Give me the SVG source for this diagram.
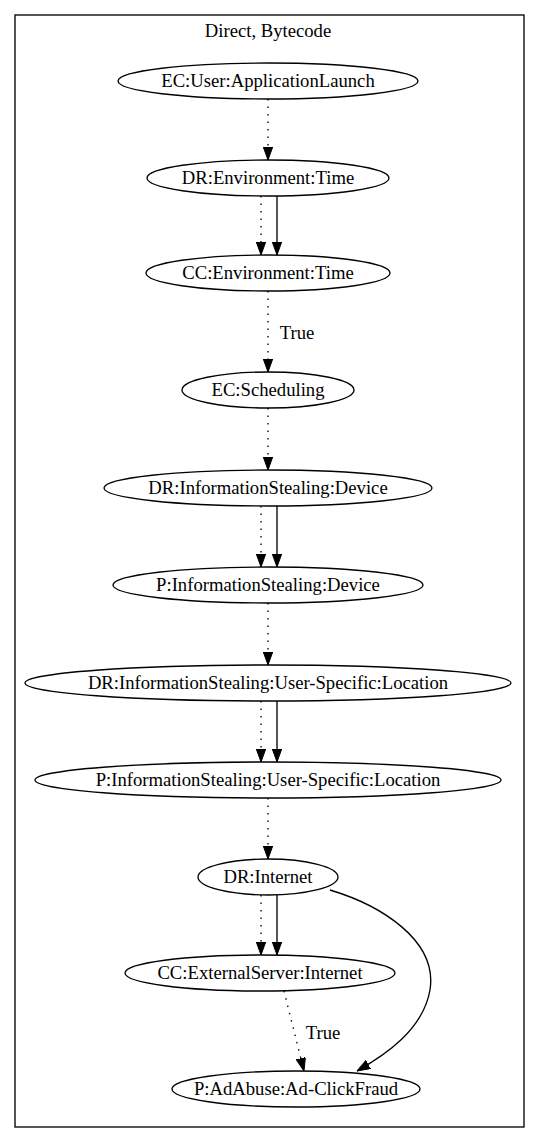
<svg xmlns="http://www.w3.org/2000/svg" width="539" height="1143" viewBox="0 0 539 1143">
<style>
text{font-family:"Liberation Serif","Times New Roman",serif;font-size:18.67px;fill:#000;text-anchor:middle}
ellipse{fill:none;stroke:#000;stroke-width:1.33}
.e{fill:none;stroke:#000;stroke-width:1.33;marker-end:url(#ah)}
.d{stroke-dasharray:1.5,6}
</style>
<defs>
<marker id="ah" markerWidth="13" markerHeight="10" refX="13" refY="4.7" orient="auto" markerUnits="userSpaceOnUse">
<path d="M0,0 L13,4.7 L0,9.4 z" fill="#000" stroke="#000" stroke-width="1"/>
</marker>
</defs>
<rect x="15" y="15" width="509" height="1112" fill="#fff" stroke="#000" stroke-width="1.33"/>
<text x="268" y="37">Direct, Bytecode</text>
<g id="connectors">
<line class="e d" x1="268" y1="99" x2="268" y2="160"/>
<line class="e d" x1="261" y1="196" x2="261" y2="255"/>
<line class="e" x1="277" y1="196" x2="277" y2="255"/>
<line class="e d" x1="268" y1="291" x2="268" y2="372"/>
<text x="297" y="339">True</text>
<line class="e d" x1="268" y1="408" x2="268" y2="470"/>
<line class="e d" x1="261" y1="506" x2="261" y2="567"/>
<line class="e" x1="277" y1="506" x2="277" y2="567"/>
<line class="e d" x1="268" y1="603" x2="268" y2="665"/>
<line class="e d" x1="261" y1="701" x2="261" y2="762"/>
<line class="e" x1="277" y1="701" x2="277" y2="762"/>
<line class="e d" x1="268" y1="798" x2="268" y2="859"/>
<line class="e d" x1="261" y1="895" x2="261" y2="955"/>
<line class="e" x1="277" y1="895" x2="277" y2="955"/>
<line class="e d" x1="284" y1="991" x2="304" y2="1071"/>
<text x="323" y="1039">True</text>
<path class="e" d="M330,890 C380,905 438,940 430,990 C423,1030 385,1055 357,1071"/>
</g>
<g id="n1"><ellipse cx="268" cy="81" rx="150" ry="18"/><text x="268" y="87">EC:User:ApplicationLaunch</text></g>
<g id="n2"><ellipse cx="268" cy="178" rx="121" ry="18"/><text x="268" y="184">DR:Environment:Time</text></g>
<g id="n3"><ellipse cx="268" cy="273" rx="122" ry="18"/><text x="268" y="279">CC:Environment:Time</text></g>
<g id="n4"><ellipse cx="268" cy="390" rx="86" ry="18"/><text x="268" y="396">EC:Scheduling</text></g>
<g id="n5"><ellipse cx="268" cy="488" rx="164" ry="18"/><text x="268" y="494">DR:InformationStealing:Device</text></g>
<g id="n6"><ellipse cx="268" cy="585" rx="155" ry="18"/><text x="268" y="591">P:InformationStealing:Device</text></g>
<g id="n7"><ellipse cx="268" cy="683" rx="243" ry="18"/><text x="268" y="689">DR:InformationStealing:User-Specific:Location</text></g>
<g id="n8"><ellipse cx="268" cy="780" rx="233" ry="18"/><text x="268" y="786">P:InformationStealing:User-Specific:Location</text></g>
<g id="n9"><ellipse cx="268" cy="877" rx="70" ry="18"/><text x="268" y="883">DR:Internet</text></g>
<g id="n10"><ellipse cx="260" cy="973" rx="135" ry="18"/><text x="260" y="979">CC:ExternalServer:Internet</text></g>
<g id="n11"><ellipse cx="296" cy="1089" rx="124" ry="18"/><text x="296" y="1095">P:AdAbuse:Ad-ClickFraud</text></g>
</svg>
